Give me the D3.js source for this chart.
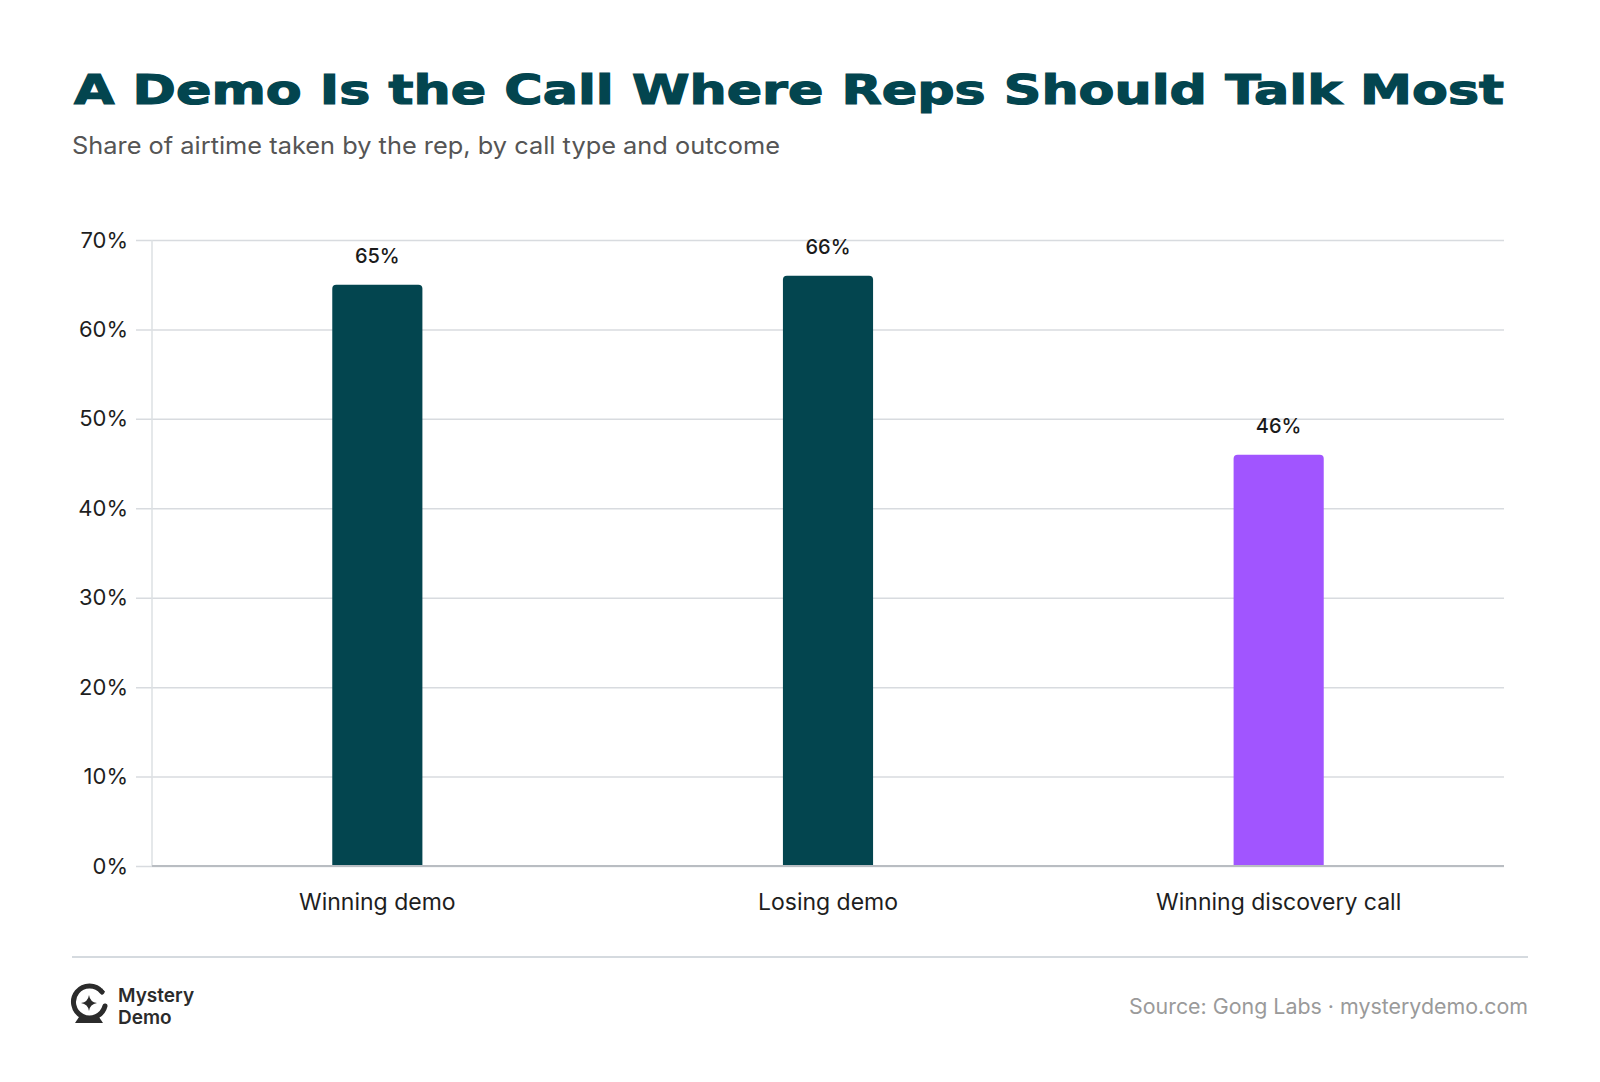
<!DOCTYPE html>
<html>
<head>
<meta charset="utf-8">
<script src="https://d3js.org/d3.v7.min.js"></script>
<style>
  body { margin: 0; background: #fff; }
  text { font-family: Inter, "Noto Sans", sans-serif; }
</style>
</head>
<body>
<div id="chart"></div>
<script>
// data
const categories = ["Winning demo", "Losing demo", "Winning discovery call"];
const shares = [65, 66, 46];
const barColors = ["#03454f", "#03454f", "#a155ff"];
const yTicks = [0, 10, 20, 30, 40, 50, 60, 70];

const W = 1600, H = 1082;
const margin = {top: 240, right: 96, bottom: 216, left: 152};
const width = W - margin.left - margin.right;
const height = 866 - margin.top;

const svg = d3.select("#chart").append("svg")
    .attr("width", W)
    .attr("height", H);

// title + subtitle
svg.append("text")
    .attr("x", 74).attr("y", 104)
    .attr("textLength", 1430)
    .attr("lengthAdjust", "spacingAndGlyphs")
    .style("font-family", "'DejaVu Sans', sans-serif")
    .style("font-weight", "bold")
    .style("font-size", "40px")
    .attr("fill", "#03454f")
    .attr("stroke", "#03454f")
    .attr("stroke-width", 1.2)
    .text("A Demo Is the Call Where Reps Should Talk Most");

svg.append("text")
    .attr("x", 72).attr("y", 154)
    .attr("textLength", 708)
    .attr("lengthAdjust", "spacingAndGlyphs")
    .style("font-size", "24px")
    .attr("fill", "#555")
    .text("Share of airtime taken by the rep, by call type and outcome");

const g = svg.append("g")
    .attr("transform", `translate(${margin.left},${margin.top})`);

const x = d3.scaleBand()
    .domain(categories)
    .range([0, width])
    .paddingInner(0.8)
    .paddingOuter(0.4);

const y = d3.scaleLinear()
    .domain([0, 70])
    .range([height, 0]);

// gridlines + y labels
const yAxis = g.append("g")
    .call(d3.axisLeft(y).tickValues(yTicks).tickSize(-width - 16).tickPadding(8).tickFormat(d => d + "%"))
    .attr("transform", "translate(-16,0)");
yAxis.select(".domain").remove();
yAxis.selectAll(".tick line")
    .attr("stroke", "#d8dbdf")
    .attr("stroke-width", 1.5);
yAxis.selectAll(".tick text")
    .style("font-size", "22px")
    .style("font-family", "Inter, sans-serif")
    .attr("fill", "#1e1e1e");

// vertical axis line
g.append("line")
    .attr("x1", 0).attr("x2", 0)
    .attr("y1", y(70)).attr("y2", y(0))
    .attr("stroke", "#dde0e3")
    .attr("stroke-width", 1.5);

// baseline
g.append("line")
    .attr("x1", 0).attr("x2", width)
    .attr("y1", y(0)).attr("y2", y(0))
    .attr("stroke", "#b9bdc2")
    .attr("stroke-width", 2);

// bars with rounded top corners
const r = 4;
function barPath(d, i) {
    const x0 = x(categories[i]), bw = x.bandwidth();
    const yt = y(d), yb = y(0) - 1;
    return `M${x0},${yb} V${yt + r} Q${x0},${yt} ${x0 + r},${yt} H${x0 + bw - r} Q${x0 + bw},${yt} ${x0 + bw},${yt + r} V${yb} Z`;
}

g.selectAll(".bar")
    .data(shares)
    .enter().append("path")
    .attr("class", "bar")
    .attr("d", barPath)
    .attr("fill", (d, i) => barColors[i]);

g.selectAll(".val")
    .data(shares)
    .enter().append("text")
    .attr("class", "val")
    .attr("x", (d, i) => x(categories[i]) + x.bandwidth() / 2)
    .attr("y", d => y(d) - 22)
    .attr("text-anchor", "middle")
    .style("font-size", "20px")
    .style("font-weight", 500)
    .attr("fill", "#1a1a1a")
    .text(d => d + "%");

// x labels
const xAxis = g.append("g")
    .attr("transform", `translate(0,${height})`)
    .call(d3.axisBottom(x).tickSize(0).tickPadding(28));
xAxis.select(".domain").remove();
xAxis.selectAll(".tick text")
    .style("font-size", "23px")
    .style("font-family", "Inter, sans-serif")
    .attr("fill", "#1e1e1e");

// footer rule
svg.append("line")
    .attr("x1", 72).attr("x2", 1528)
    .attr("y1", 957).attr("y2", 957)
    .attr("stroke", "#d5dadf")
    .attr("stroke-width", 2);

// logo: crystal ball
const logo = svg.append("g").attr("transform", "translate(72,986)");
logo.append("path")
    .attr("d", "M30,6 A16,16 0 1 0 33,20")
    .attr("fill", "none")
    .attr("stroke", "#2b2b2b")
    .attr("stroke-width", 5)
    .attr("stroke-linecap", "round");
logo.append("path")
    .attr("d", "M17,9 Q18,16 25,17 Q18,18 17,25 Q16,18 9,17 Q16,16 17,9 Z")
    .attr("fill", "#2b2b2b");
logo.append("path")
    .attr("d", "M30,2 Q30.5,5 33,5.5 Q30.5,6 30,9 Q29.5,6 27,5.5 Q29.5,5 30,2 Z")
    .attr("fill", "#2b2b2b");
logo.append("path")
    .attr("d", "M7,31 L27,31 L31,37 L3,37 Z")
    .attr("fill", "#2b2b2b");

svg.append("text")
    .attr("x", 118).attr("y", 1002)
    .style("font-size", "19px")
    .style("font-weight", 600)
    .attr("fill", "#2b2b2b")
    .text("Mystery");
svg.append("text")
    .attr("x", 118).attr("y", 1024)
    .style("font-size", "19px")
    .style("font-weight", 600)
    .attr("fill", "#2b2b2b")
    .text("Demo");

svg.append("text")
    .attr("x", 1528).attr("y", 1014)
    .attr("text-anchor", "end")
    .attr("textLength", 399)
    .attr("lengthAdjust", "spacingAndGlyphs")
    .style("font-size", "21px")
    .attr("fill", "#9a9a9a")
    .text("Source: Gong Labs · mysterydemo.com");
</script>
</body>
</html>
